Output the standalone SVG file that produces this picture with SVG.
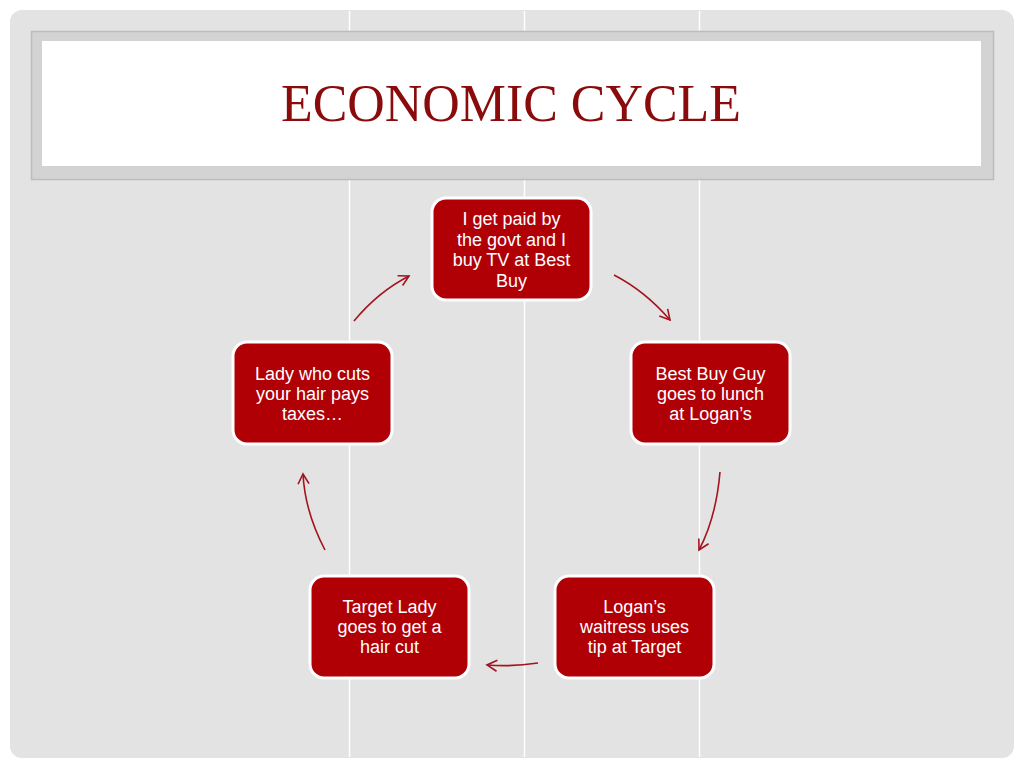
<svg xmlns="http://www.w3.org/2000/svg" width="1024" height="768" viewBox="0 0 1024 768">
<defs>
<style>
.node rect{fill:#b00006;stroke:#ffffff;stroke-width:3}
.node text{font-family:"Liberation Sans",Arial,sans-serif;font-size:18px;fill:#ffffff;text-anchor:middle}
.conn path{fill:none;stroke:#a3141e;stroke-width:1.6;marker-end:url(#arr)}
.vline{stroke:#ffffff;stroke-width:1.5}
</style>
<marker id="arr" viewBox="-12 -7 14 14" markerWidth="14" markerHeight="14" refX="0" refY="0" orient="auto" markerUnits="userSpaceOnUse">
<path d="M-10,-5.5 L0,0 L-10,5.5" fill="none" stroke="#a3141e" stroke-width="1.6"/>
</marker>
</defs>
<rect x="0" y="0" width="1024" height="768" fill="#ffffff"/>
<rect x="10" y="10" width="1004" height="748" rx="12" fill="#e3e3e3"/>
<line class="vline" x1="349.5" y1="11" x2="349.5" y2="757"/>
<line class="vline" x1="524.5" y1="11" x2="524.5" y2="757"/>
<line class="vline" x1="699.5" y1="11" x2="699.5" y2="757"/>
<g id="title">
<rect x="31.5" y="31.5" width="962" height="148" fill="#d3d3d3" stroke="#bcbcbc" stroke-width="1.5"/>
<rect x="42" y="41" width="939" height="125" fill="#ffffff"/>
<text x="511" y="121" font-family="'Liberation Serif','Times New Roman',serif" font-size="52" fill="#8a0b0b" text-anchor="middle" textLength="460" lengthAdjust="spacingAndGlyphs">ECONOMIC CYCLE</text>
</g>
<g id="connectors" class="conn">
<path d="M354,321 Q378,292 409,276"/>
<path d="M614,275 Q645,291 670,320"/>
<path d="M720,472 Q716,518 699,550"/>
<path d="M538,663 Q512,667 487,665"/>
<path d="M325,550 Q305,512 303,474"/>
</g>
<g id="node-top" class="node">
<rect x="432" y="198" width="159" height="102" rx="14"/>
<text x="511.5" y="225">I get paid by</text>
<text x="511.5" y="245.5">the govt and I</text>
<text x="511.5" y="266">buy TV at Best</text>
<text x="511.5" y="286.5">Buy</text>
</g>
<g id="node-right" class="node">
<rect x="631" y="342" width="159" height="102" rx="14"/>
<text x="710.5" y="380">Best Buy Guy</text>
<text x="710.5" y="400">goes to lunch</text>
<text x="710.5" y="420">at Logan’s</text>
</g>
<g id="node-bottom-right" class="node">
<rect x="555" y="576" width="159" height="102" rx="14"/>
<text x="634.5" y="613">Logan’s</text>
<text x="634.5" y="633">waitress uses</text>
<text x="634.5" y="653">tip at Target</text>
</g>
<g id="node-bottom-left" class="node">
<rect x="310" y="576" width="159" height="102" rx="14"/>
<text x="389.5" y="613">Target Lady</text>
<text x="389.5" y="633">goes to get a</text>
<text x="389.5" y="653">hair cut</text>
</g>
<g id="node-left" class="node">
<rect x="233" y="342" width="159" height="102" rx="14"/>
<text x="312.5" y="380">Lady who cuts</text>
<text x="312.5" y="400">your hair pays</text>
<text x="312.5" y="420">taxes…</text>
</g>
</svg>
